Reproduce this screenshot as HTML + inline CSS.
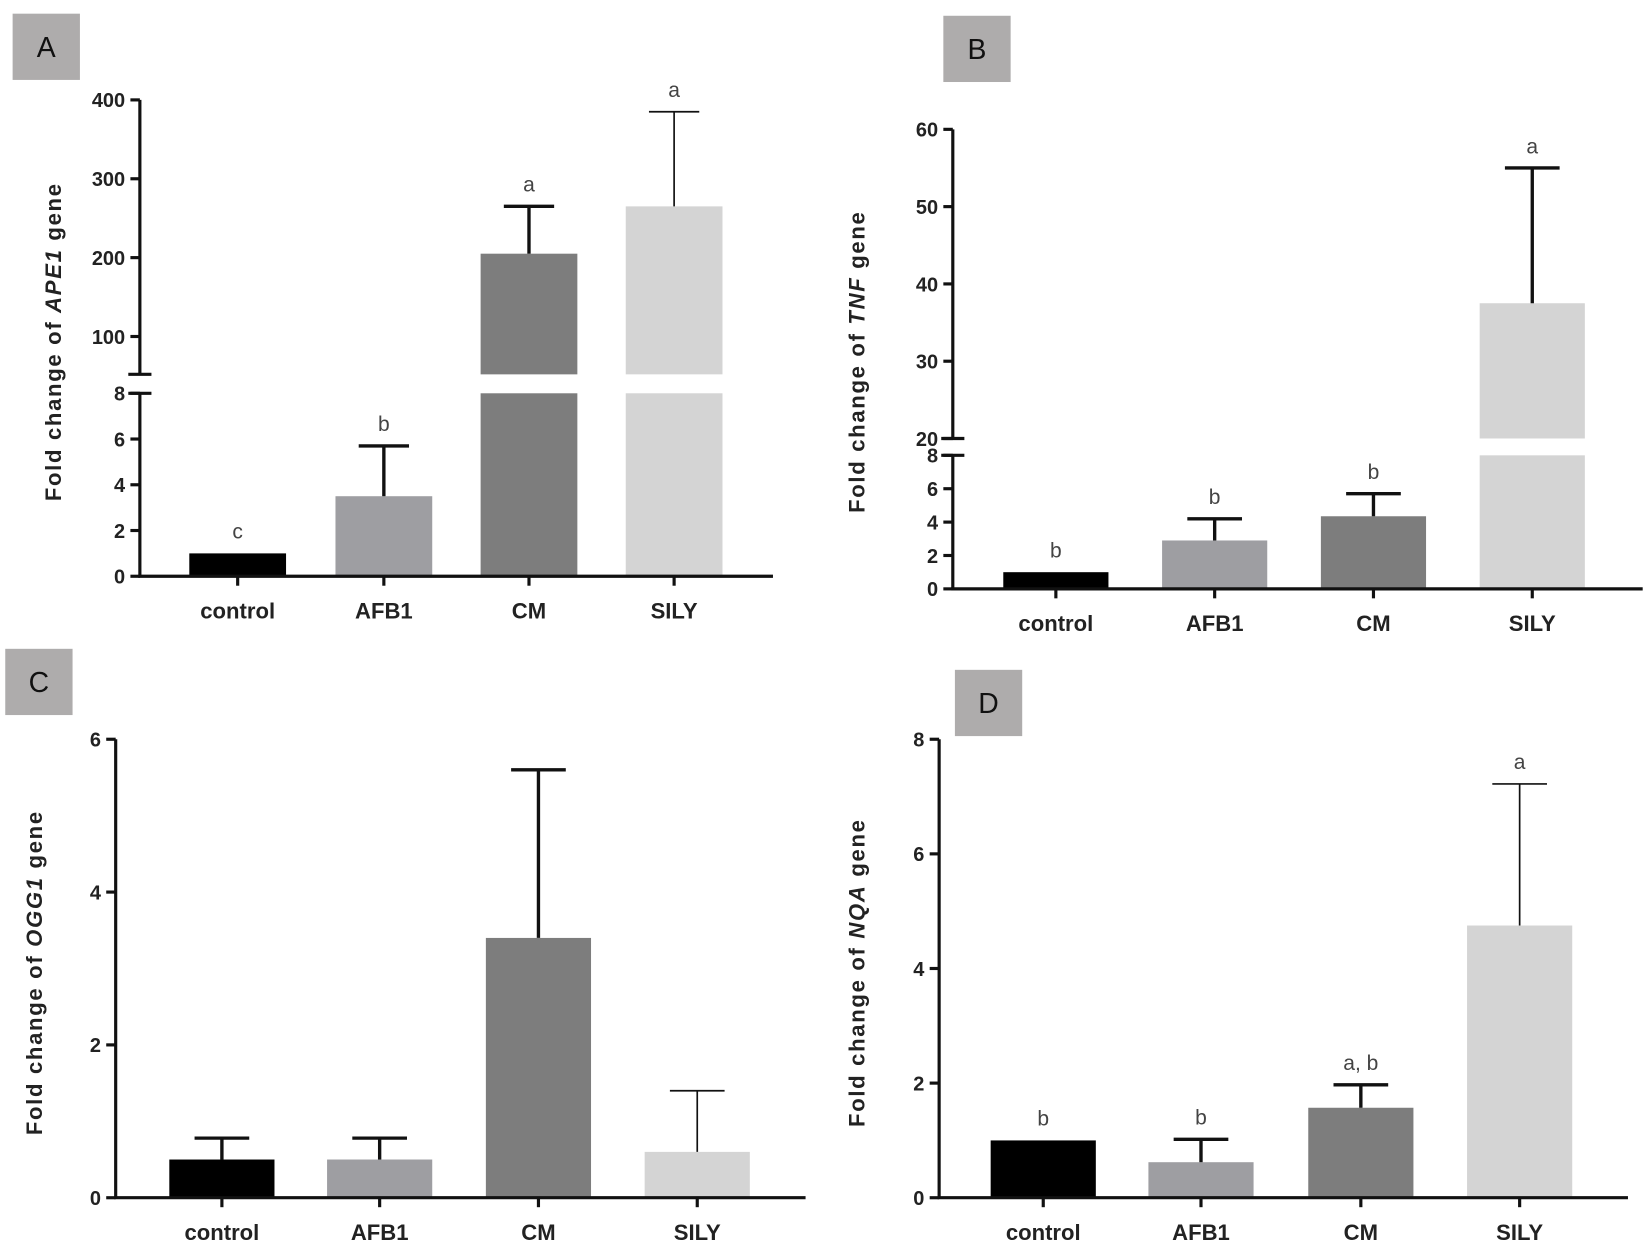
<!DOCTYPE html>
<html><head><meta charset="utf-8"><style>
html,body{margin:0;padding:0;background:#fff;}
svg{display:block;font-family:"Liberation Sans",Arial,sans-serif;}
</style></head><body>
<svg id="fig" width="1649" height="1244" viewBox="0 0 1568 1183" preserveAspectRatio="none" xmlns="http://www.w3.org/2000/svg"></svg>
<script>
const categories = ["control","AFB1","CM","SILY"];
const colors = ["#000000","#9e9ea2","#7d7d7d","#d4d4d4"];
// Panel A
const valuesA = [1, 3.5, 205, 265];
const errorsA = [1, 5.7, 265, 385];
const lettersA = ["c","b","a","a"];
const lowTicksA = [0,2,4,6,8];
const upTicksA = [100,200,300,400];
// Panel B
const valuesB = [1, 2.9, 4.35, 37.5];
const errorsB = [1, 4.2, 5.7, 55];
const lettersB = ["b","b","b","a"];
const lowTicksB = [0,2,4,6,8];
const upTicksB = [20,30,40,50,60];
// Panel C
const valuesC = [0.5, 0.5, 3.4, 0.6];
const errorsC = [0.78, 0.78, 5.6, 1.4];
const lettersC = ["","","",""];
const ticksC = [0,2,4,6];
// Panel D
const valuesD = [1.0, 0.62, 1.57, 4.75];
const errorsD = [1.0, 1.02, 1.97, 7.22];
const lettersD = ["b","b","a, b","a"];
const ticksD = [0,2,4,6,8];

const NS="http://www.w3.org/2000/svg";
const svg=document.getElementById('fig');
function mk(tag,attrs,parent){const e=document.createElementNS(NS,tag);for(const k in attrs)e.setAttribute(k,attrs[k]);(parent||svg).appendChild(e);return e;}

function panel(p){
  const g=mk('g',{});
  
  
  const box=mk('rect',{x:p.box[0],y:p.box[1],width:64,height:63,fill:'#aeacac'},g);
  
  
  const bt=mk('text',{x:p.box[0]+32,y:p.box[1]+41,'font-size':27,'text-anchor':'middle',fill:'#111'},g);
  bt.textContent=p.id;
  
  
  const y=v=>{
    if(!p.brk||v<=p.lowMax) return p.base-(v/p.lowMax)*(p.base-p.lowTop);
    return p.upBottom-(v-p.upMin)/(p.upMax-p.upMin)*(p.upBottom-p.upTop);
  };
  categories.forEach((c,i)=>{
    const cx=p.centers[i], w=p.bw, v=p.values[i];
    if(p.brk&&v>p.lowMax){
      const r1=mk('rect',{x:cx-w/2,y:y(p.lowMax),width:w,height:y(0)-y(p.lowMax),fill:colors[i]},g);
      
      
      const r2=mk('rect',{x:cx-w/2,y:y(v),width:w,height:p.upBottom-y(v),fill:colors[i]},g);
      
      
    } else {
      const r=mk('rect',{x:cx-w/2,y:y(v),width:w,height:y(0)-y(v),fill:colors[i]},g);
      
      
    }
    const e=p.errors[i];
    if(e>v){
      const sw=(p.thin.indexOf(i)>=0)?1.6:3.2;
      const eg=mk('g',{stroke:'#111','stroke-width':sw},g);
      
      
      mk('line',{x1:cx,x2:cx,y1:y(v),y2:y(e)},eg);
      mk('line',{x1:cx-w*0.26,x2:cx+w*0.26,y1:y(e),y2:y(e)},eg);
    }
    if(p.letters[i]){
      const lt=mk('text',{x:cx,y:y(Math.max(e,v))-14,'font-size':20,'text-anchor':'middle',fill:'#444'},g);
      lt.textContent=p.letters[i];
      
      
    }
    mk('line',{x1:cx,x2:cx,y1:p.base,y2:p.base+9,stroke:'#111','stroke-width':3},g);
    const xl=mk('text',{x:cx,y:p.base+40,'font-size':21,'font-weight':'bold','text-anchor':'middle',fill:'#222'},g);
    xl.textContent=c;
    
    
  });
  const ax=mk('g',{stroke:'#111','stroke-width':3,fill:'none'},g);
  
  
  mk('line',{x1:p.ax-1.5,x2:p.x1,y1:p.base,y2:p.base},ax);
  if(p.brk){
    mk('line',{x1:p.ax,x2:p.ax,y1:p.base,y2:p.lowTop},ax);
    mk('line',{x1:p.ax,x2:p.ax,y1:p.upBottom,y2:p.upTop},ax);
    mk('line',{x1:p.ax-11,x2:p.ax+11,y1:p.lowTop,y2:p.lowTop},ax);
    mk('line',{x1:p.ax-11,x2:p.ax+11,y1:p.upBottom,y2:p.upBottom},ax);
  } else {
    mk('line',{x1:p.ax,x2:p.ax,y1:p.base,y2:y(p.lowMax)},ax);
  }
  p.ticks.forEach(t=>{
    mk('line',{x1:p.ax-9,x2:p.ax,y1:y(t),y2:y(t)},ax);
    const tl=mk('text',{x:p.ax-14,y:y(t)+7,'font-size':19,'font-weight':'bold','text-anchor':'end',fill:'#222'},g);
    tl.textContent=t;
    
    
  });
  const yt=mk('text',{transform:`translate(${p.titleX},${p.titleY}) rotate(-90)`,'font-size':21,'letter-spacing':1.6,'font-weight':'bold','text-anchor':'middle',fill:'#222'},g);
  yt.innerHTML='Fold change of <tspan font-style="italic">'+p.gene+'</tspan> gene';
  
  
}

panel({id:'A',box:[12,13],ax:133,x0:133,x1:735,centers:[226,365,503,641],bw:92,
  base:548,lowTop:374,lowMax:8,brk:true,upBottom:356,upTop:95,upMin:52,upMax:400,
  values:valuesA,errors:errorsA,letters:lettersA,ticks:lowTicksA.concat(upTicksA),thin:[3],
  gene:'APE1',titleX:58,titleY:325});
panel({id:'B',box:[897,15],ax:906,x0:906,x1:1562,centers:[1004,1155,1306,1457],bw:100,
  base:560,lowTop:433,lowMax:8,brk:true,upBottom:417,upTop:123,upMin:20,upMax:60,
  values:valuesB,errors:errorsB,letters:lettersB,ticks:lowTicksB.concat(upTicksB),thin:[],
  gene:'TNF',titleX:822,titleY:344});
panel({id:'C',box:[5,617],ax:110,x0:110,x1:766,centers:[211,361,512,663],bw:100,
  base:1139,lowTop:703,lowMax:6,brk:false,
  values:valuesC,errors:errorsC,letters:lettersC,ticks:ticksC,thin:[3],
  gene:'OGG1',titleX:40,titleY:925});
panel({id:'D',box:[908,637],ax:893,x0:893,x1:1548,centers:[992,1142,1294,1445],bw:100,
  base:1139,lowTop:703,lowMax:8,brk:false,
  values:valuesD,errors:errorsD,letters:lettersD,ticks:ticksD,thin:[3],
  gene:'NQA',titleX:822,titleY:925});
</script>
</body></html>
